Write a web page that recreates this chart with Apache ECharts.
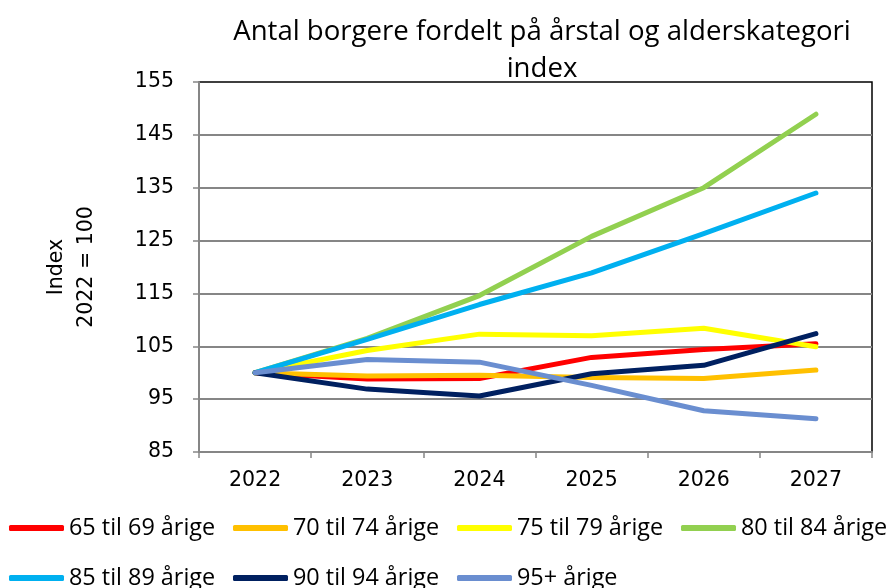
<!DOCTYPE html>
<html>
<head>
<meta charset="utf-8">
<script src="https://cdn.jsdelivr.net/npm/echarts@6/dist/echarts.min.js"></script>
<style>
html,body{margin:0;padding:0;background:#fff;}
#chart{width:893px;height:588px;}
</style>
</head>
<body>
<div id="chart"></div>
<script>
// Data
const years = ['2022', '2023', '2024', '2025', '2026', '2027'];
const seriesNames = ['65 til 69 årige', '70 til 74 årige', '75 til 79 årige', '80 til 84 årige', '85 til 89 årige', '90 til 94 årige', '95+ årige'];
const age65_69 = [100, 98.8, 98.9, 102.9, 104.4, 105.5];
const age70_74 = [100, 99.4, 99.5, 99.1, 98.9, 100.5];
const age75_79 = [100, 104.2, 107.3, 107.0, 108.4, 104.9];
const age80_84 = [100, 106.5, 114.6, 125.8, 135.0, 148.9];
const age85_89 = [100, 106.3, 112.9, 118.9, 126.3, 134.0];
const age90_94 = [100, 96.9, 95.6, 99.8, 101.4, 107.4];
const age95plus = [100, 102.5, 102.0, 97.6, 92.8, 91.3];
const yTicks = [85, 95, 105, 115, 125, 135, 145, 155];

const seriesData = [age65_69, age70_74, age75_79, age80_84, age85_89, age90_94, age95plus];
const colors = ['#FF0000', '#FFC000', '#FFFF00', '#92D050', '#00B0F0', '#002060', '#6A8ED0'];

const chart = echarts.init(document.getElementById('chart'), null, {renderer: 'canvas'});
const labelFont = '"DejaVu Sans", Verdana, sans-serif';
const textFont = '"Open Sans", "Noto Sans", sans-serif';

const legendCommon = {
  orient: 'horizontal',
  left: 9,
  width: 884,
  itemWidth: 55,
  itemHeight: 6,
  itemGap: 14,
  icon: 'roundRect',
  textStyle: {fontFamily: textFont, fontSize: 23.4, color: '#000', width: 150, lineHeight: 30, padding: 0},
  padding: 0
};

chart.setOption({
  animation: false,
  backgroundColor: '#fff',
  color: colors,
  title: {
    text: 'Antal borgere fordelt på årstal og alderskategori\nindex',
    left: 537,
    top: 9,
    textAlign: 'center',
    textStyle: {fontFamily: textFont, fontSize: 27.6, fontWeight: 'normal', color: '#000', lineHeight: 37}
  },
  legend: [
    Object.assign({}, legendCommon, {top: 513, data: seriesNames.slice(0, 4)}),
    Object.assign({}, legendCommon, {top: 563, data: seriesNames.slice(4)})
  ],
  grid: {
    left: 199, right: 21, top: 82, bottom: 136,
    show: true, borderColor: '#000', borderWidth: 1.5, backgroundColor: 'transparent'
  },
  xAxis: {
    type: 'category',
    data: years,
    boundaryGap: true,
    axisLine: {lineStyle: {color: '#868686', width: 2}},
    axisTick: {show: true, length: 6, lineStyle: {color: '#868686', width: 1.5}},
    axisLabel: {fontFamily: labelFont, fontSize: 20.5, color: '#000', margin: 18},
    splitLine: {show: false}
  },
  yAxis: {
    type: 'value',
    min: yTicks[0],
    max: yTicks[yTicks.length - 1],
    interval: 10,
    name: 'Index\n2022 = 100',
    nameLocation: 'middle',
    nameRotate: 90,
    nameGap: 97,
    nameTextStyle: {fontFamily: labelFont, fontSize: 20.5, color: '#000', lineHeight: 30},
    axisLine: {show: true, lineStyle: {color: '#868686', width: 2}},
    axisTick: {show: true, length: 6, lineStyle: {color: '#868686', width: 1.5}},
    axisLabel: {fontFamily: labelFont, fontSize: 20.5, color: '#000', margin: 25},
    splitLine: {show: true, showMaxLine: false, lineStyle: {color: '#868686', width: 2}}
  },
  series: seriesNames.map((name, i) => ({
    name: name,
    type: 'line',
    data: seriesData[i],
    showSymbol: false,
    symbol: 'none',
    smooth: false,
    lineStyle: {width: 5, color: colors[i], cap: 'round', join: 'round'},
    itemStyle: {color: colors[i]},
    emphasis: {disabled: true}
  }))
});
</script>
</body>
</html>
